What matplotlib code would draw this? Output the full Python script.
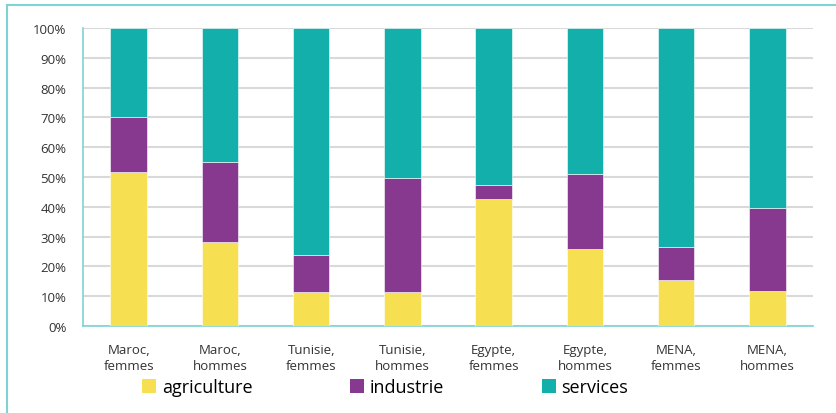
import numpy as np
import matplotlib.pyplot as plt
from matplotlib.patches import Patch
from matplotlib.lines import Line2D

categories = ['Maroc,\nfemmes', 'Maroc,\nhommes', 'Tunisie,\nfemmes', 'Tunisie,\nhommes',
              'Egypte,\nfemmes', 'Egypte,\nhommes', 'MENA,\nfemmes', 'MENA,\nhommes']
agriculture = [51.8, 28.2, 11.3, 11.4, 42.6, 26.0, 15.5, 11.6]
industrie = [18.5, 27.0, 12.6, 38.1, 4.7, 25.0, 11.0, 28.0]
services = [100 - a - i for a, i in zip(agriculture, industrie)]
series_names = ['agriculture', 'industrie', 'services']

colors = ['#F7DF52', '#873990', '#12AFAB']
edge = '#7FD3D3'

plt.rcParams['font.family'] = ['Open Sans', 'DejaVu Sans']

fig = plt.figure(figsize=(8.37, 4.14), dpi=100)
ax = fig.add_axes([83 / 837, 1 - 327 / 414, 730 / 837, 298 / 414])

x = np.arange(len(categories))
w = 0.4
bottom = np.zeros(len(categories))
for vals, c in zip([agriculture, industrie, services], colors):
    ax.bar(x, vals, w, bottom=bottom, color=c, edgecolor='white', linewidth=0.4, zorder=3)
    bottom += np.array(vals)

ax.set_xlim(-0.5, len(categories) - 0.5)
ax.set_ylim(0, 100)
ax.set_yticks(np.arange(0, 101, 10))
ax.set_yticklabels([f'{v}%' for v in range(0, 101, 10)], fontsize=9.5, color='#333333')
ax.set_xticks(x)
ax.set_xticklabels(categories, fontsize=9.5, color='#333333', linespacing=1.3)
ax.tick_params(axis='x', length=0, pad=12)
ax.tick_params(axis='y', length=0, pad=12)
ax.grid(axis='y', color='#D9D9D9', linewidth=1.5, zorder=0)
for s in ['top', 'right']:
    ax.spines[s].set_visible(False)
for s in ['left', 'bottom']:
    ax.spines[s].set_color(edge)
    ax.spines[s].set_linewidth(1.2)

handles = [Patch(facecolor=c, edgecolor='none') for c in colors]
fig.legend(handles, series_names, loc='center', bbox_to_anchor=(0.46, 1 - 388 / 414),
           ncol=3, frameon=False, fontsize=13, handlelength=0.8, handleheight=0.8,
           handletextpad=0.3, columnspacing=5.4)

# outer frame (left and top only)
fig.add_artist(Line2D([7 / 837, 7 / 837], [0, 1 - 6 / 414], transform=fig.transFigure,
                      color=edge, linewidth=1.5))
fig.add_artist(Line2D([7 / 837, 1], [1 - 6 / 414, 1 - 6 / 414], transform=fig.transFigure,
                      color=edge, linewidth=1.5))

fig.savefig('out.png', dpi=100)
